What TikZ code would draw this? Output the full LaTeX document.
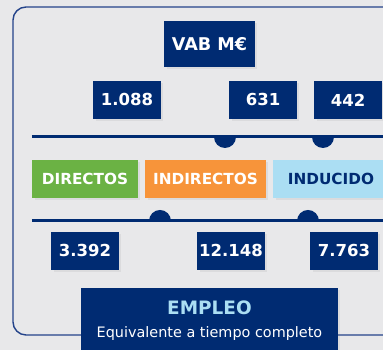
\documentclass[tikz,border=0pt]{standalone}
\usepackage{fontspec}
\setmainfont{DejaVu Sans}
\usetikzlibrary{positioning,shadows}
\definecolor{navy}{HTML}{002B72}
\definecolor{framecol}{HTML}{24438A}
\definecolor{paper}{HTML}{E8E8EA}
\definecolor{verde}{HTML}{6BB244}
\definecolor{naranja}{HTML}{F7943A}
\definecolor{celeste}{HTML}{ABDEF3}
\begin{document}
\begin{tikzpicture}[
        x=0.02cm,
        y=0.02cm,
        box/.style={
            rectangle,
            fill=navy,
            text=white,
            inner sep=0pt,
            font=\fontsize{9.4}{12}\selectfont\bfseries,
            drop shadow={opacity=0.12, shadow xshift=0.05cm, shadow yshift=-0.05cm},
        },
        num/.style={
            minimum width=1.36cm,
            minimum height=0.76cm,
        },
        cat/.style={
            minimum height=0.76cm,
            font=\fontsize{8.7}{12}\selectfont\bfseries,
        },
        bar/.style={
            draw=navy,
            line width=1.7pt,
        },
        knob/.style={
            fill=navy,
        },
    ]
        \useasboundingbox (0,0) rectangle (383,350);
        \fill[paper] (0,0) rectangle (383,350);
        \draw[framecol, line width=0.8pt, rounded corners=0.26cm] (13,343) rectangle (420,15);

        % valor anadido
        \node [box, minimum width=1.82cm, minimum height=0.92cm, font=\fontsize{10}{12}\selectfont\bfseries] (vab) at (209.5,306) {VAB M€};
        \node [box, num] (vdir) at (127,250) {1.088};
        \node [box, num] (vind) at (263,250) {631};
        \node [box, num] (vinc) at (348,250) {442};

        \coordinate (l1a) at (32,213);
        \coordinate (l1b) at (390,213);
        \draw [bar] (l1a) -- (l1b);
        \fill [knob] (214,213) arc[start angle=180, end angle=360, radius=11] -- cycle;
        \fill [knob] (312,213) arc[start angle=180, end angle=360, radius=11] -- cycle;

        % tipos de impacto
        \node [box, cat, fill=verde, minimum width=2.12cm] (dir) at (85,171) {DIRECTOS};
        \node [box, cat, fill=naranja, minimum width=2.42cm] (ind) at (205.5,171) {INDIRECTOS};
        \node [box, cat, fill=celeste, text=navy, minimum width=2.32cm] (inc) at (331,171) {INDUCIDO};

        \coordinate (l2a) at (32,129);
        \coordinate (l2b) at (390,129);
        \draw [bar] (l2a) -- (l2b);
        \fill [knob] (149,129) arc[start angle=180, end angle=0, radius=11] -- cycle;
        \fill [knob] (297,129) arc[start angle=180, end angle=0, radius=11] -- cycle;

        % empleo
        \node [box, num] (edir) at (85,99) {3.392};
        \node [box, num] (eind) at (231,99) {12.148};
        \node [box, num] (einc) at (344,99) {7.763};

        \node [box, minimum width=5.14cm, minimum height=1.32cm, align=center] (empleo) at (209.5,29)
            {{\fontsize{10.5}{12}\selectfont\color{celeste}EMPLEO}\\[1pt]{\fontsize{8.2}{10}\selectfont\mdseries Equivalente a tiempo completo}};
    \end{tikzpicture}
\end{document}
